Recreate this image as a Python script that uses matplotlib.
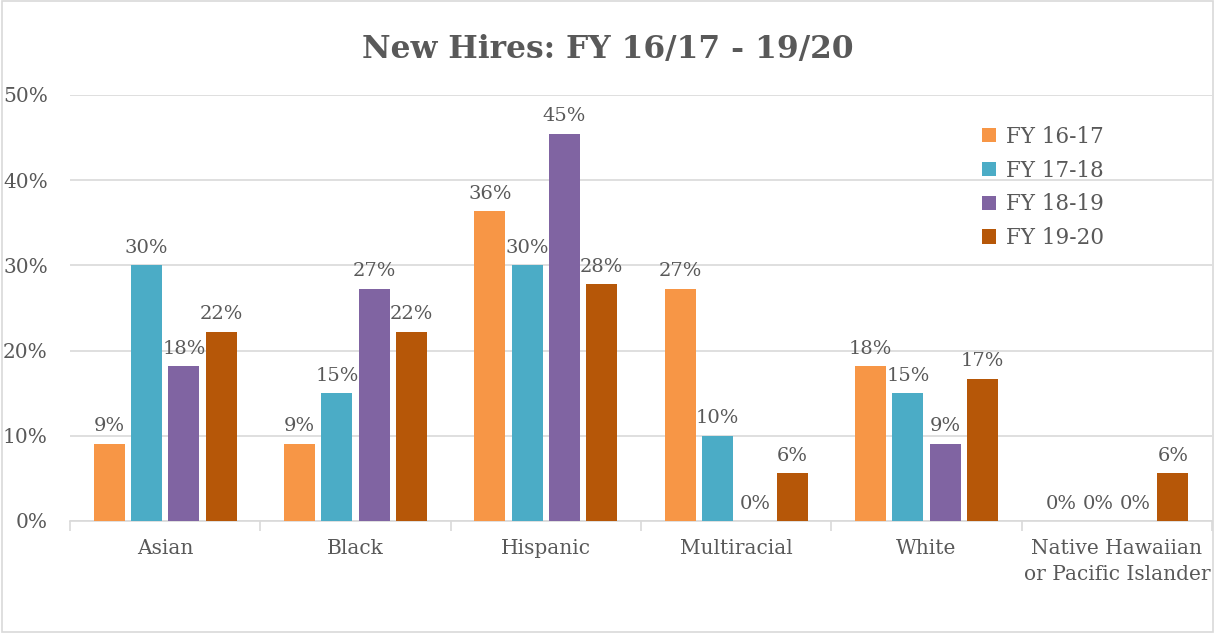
import matplotlib
matplotlib.use("Agg")
from matplotlib import pyplot as plt
from matplotlib.patches import Rectangle
import numpy as np

categories = ["Asian", "Black", "Hispanic", "Multiracial", "White",
              "Native Hawaiian\nor Pacific Islander"]
series = ["FY 16-17", "FY 17-18", "FY 18-19", "FY 19-20"]
fy1617 = [9.09, 9.09, 36.36, 27.27, 18.18, 0.0]
fy1718 = [30.0, 15.0, 30.0, 10.0, 15.0, 0.0]
fy1819 = [18.18, 27.27, 45.45, 0.0, 9.09, 0.0]
fy1920 = [22.2, 22.2, 27.8, 5.6, 16.7, 5.6]
colors = ["#F79646", "#4BACC6", "#8064A2", "#B65708"]

txt = "#595959"
plt.rcParams["font.family"] = ["DejaVu Serif"]

fig = plt.figure(figsize=(12.15, 6.33), dpi=100)
ax = fig.add_axes([0.0576, 0.177, 0.94, 0.673])
fig.patches.append(Rectangle((0.002, 0.002), 0.996, 0.996, transform=fig.transFigure,
                             fill=False, edgecolor="#D9D9D9", lw=1.2))

x = np.arange(len(categories))
step = 0.196
width = 0.163
for i, (vals, c, name) in enumerate(zip([fy1617, fy1718, fy1819, fy1920], colors, series)):
    pos = x + (i - 1.5) * step
    bars = ax.bar(pos, vals, width=width, color=c, label=name, zorder=3)
    for b, v in zip(bars, vals):
        ax.annotate(f"{v:.0f}%", (b.get_x() + b.get_width() / 2, v),
                    xytext=(0, 6), textcoords="offset points",
                    ha="center", va="bottom", fontsize=14, color=txt)

ax.set_xlim(-0.5, len(categories) - 0.5)
ax.set_ylim(0, 50)
ax.set_yticks(np.arange(0, 51, 10))
ax.set_yticklabels([f"{t}%" for t in range(0, 51, 10)])
ax.yaxis.grid(True, color="#D9D9D9", lw=1.2, zorder=0)
ax.tick_params(axis="y", length=0, labelsize=14.5, labelcolor=txt, pad=16)

ax.set_xticks(x)
ax.set_xticklabels(categories, fontsize=14.5, color=txt, linespacing=1.45)
ax.set_xticks(np.arange(-0.5, len(categories)), minor=True)
ax.tick_params(axis="x", which="major", length=0, pad=13)
ax.tick_params(axis="x", which="minor", length=7, color="#D9D9D9", width=1.2)

for s in ["top", "right", "left"]:
    ax.spines[s].set_visible(False)
ax.spines["bottom"].set_color("#D9D9D9")
ax.spines["bottom"].set_linewidth(1.2)

fig.text(0.5, 0.922, "New Hires: FY 16/17 - 19/20", ha="center", va="center",
         fontsize=22.5, fontweight="bold", color=txt)

ax.legend(loc="upper left", bbox_to_anchor=(0.792, 0.832), bbox_transform=fig.transFigure,
          frameon=False, fontsize=15.5, labelcolor=txt, handlelength=0.65, handleheight=0.65,
          handletextpad=0.5, labelspacing=0.55)

fig.savefig("out.png", dpi=100)
